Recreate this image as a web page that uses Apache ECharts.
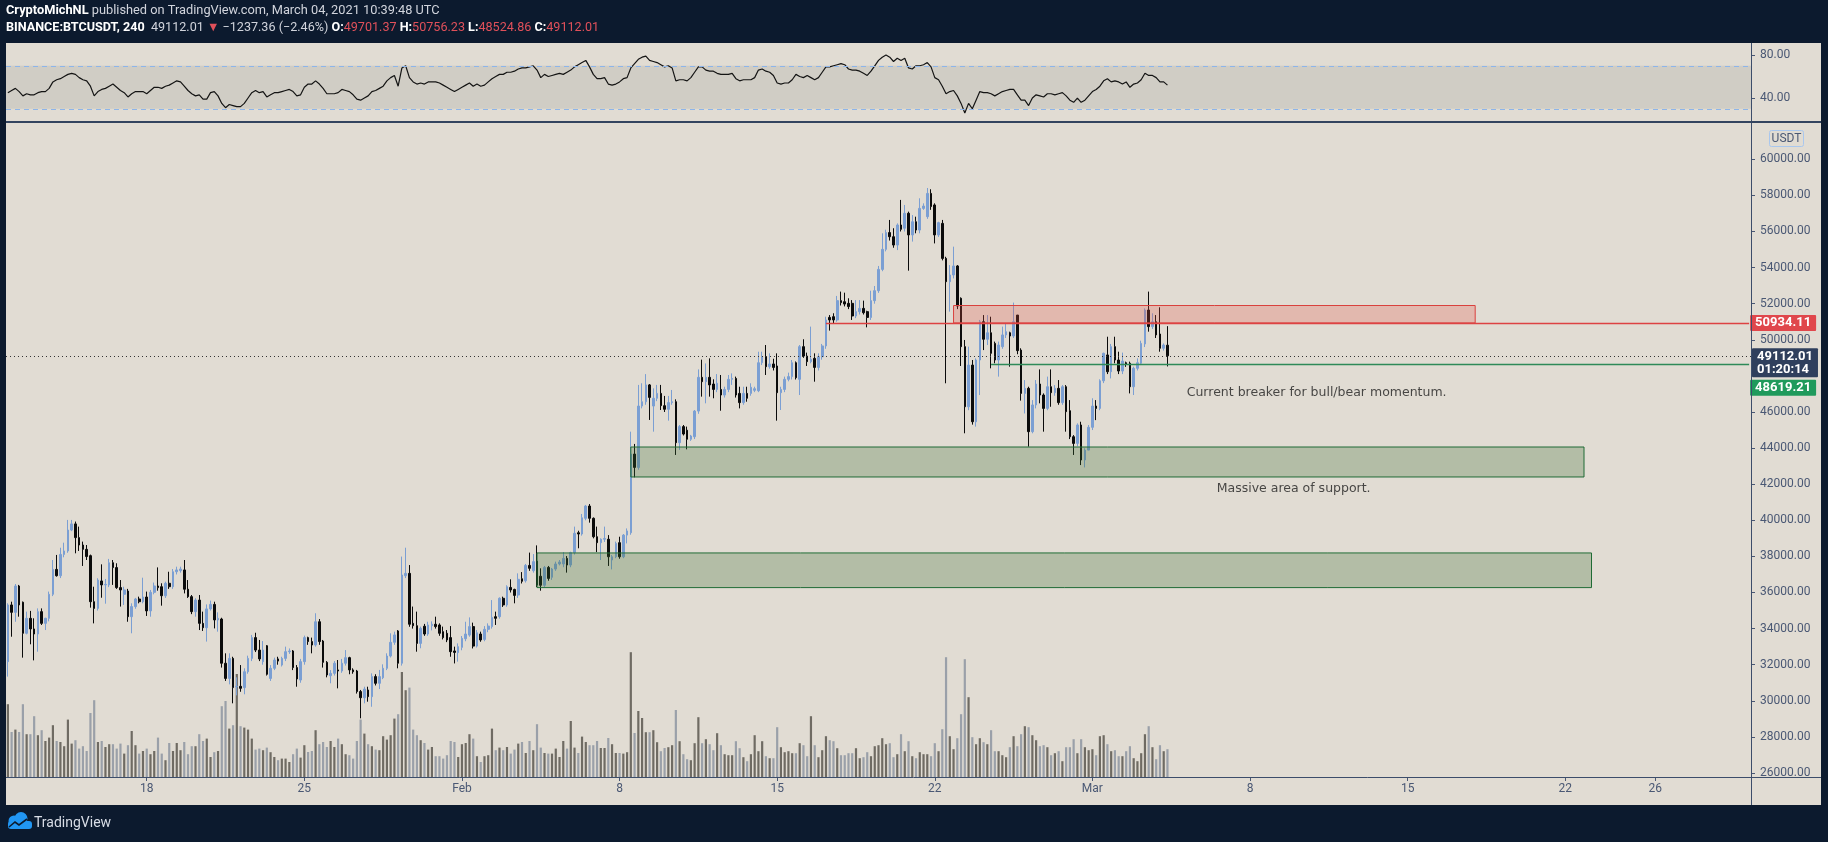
<!DOCTYPE html>
<html><head><meta charset="utf-8">
<script src="https://cdn.jsdelivr.net/npm/echarts@6/dist/echarts.min.js"></script>
<style>
html,body{margin:0;padding:0;background:#0c1a2e;width:1828px;height:842px;overflow:hidden}
#panel{position:absolute;left:6px;top:43px;width:1815px;height:762px;background:#e1dcd3}
#chart{position:absolute;left:0;top:0;width:1828px;height:842px}
</style></head><body>
<div id="panel"></div><div id="chart"></div>
<script>
const FONT = 'Roboto, "Liberation Sans", Arial, sans-serif';
const NOTE_FONT = '"DejaVu Sans", Roboto, sans-serif';
const START = Date.UTC(2021, 0, 11, 20);   // first visible 4h bar
const SLOT_COUNT = 465;                     // axis runs to end of March

// [open, close, low, high] – BINANCE:BTCUSDT 4h
const ohlc = [
[32170,35310,31340,35400],[35310,34900,33550,35490],[34900,36360,34380,36470],[36360,35310,34660,36420],[35460,33740,32390,35500],
[33740,34570,33680,34940],[34570,33980,33130,34980],[33980,33700,32240,34570],[33700,34940,32720,35120],[34940,34290,34200,35120],
[34290,34570,33920,34600],[34570,35900,34400,36050],[35900,37280,35800,37800],[37280,36930,36880,38080],[36930,38110,36800,38480],
[38110,38300,37950,38760],[38300,39460,38200,40020],[39460,39800,39400,40020],[39800,39040,38170,39930],[39040,38630,38300,39650],
[38630,38390,37470,38820],[38390,37990,37800,38630],[38040,35490,35160,38100],[35490,35120,34290,36320],[35120,36690,35000,36790],
[36640,36420,35710,37560],[36420,36450,35380,36750],[36420,37650,36300,37860],[37650,37380,36420,37800],[37380,36270,36200,37620],
[36270,36140,35220,36690],[35900,36140,35310,36320],[36080,34660,34380,36200],[34660,35220,33740,35400],[35220,35640,35100,35700],
[35640,35490,35400,35770],[35490,35750,35400,36820],[35750,34980,34700,36050],[34980,36010,34660,36140],[36010,36360,35900,36550],
[36360,36270,36100,37390],[36320,35820,35270,36510],[35820,36510,35700,36600],[36510,36320,36200,37150],[36320,37150,36200,37300],
[37150,37250,37000,37430],[37210,37300,37100,37430],[37250,36180,35950,37800],[36180,35770,35700,36690],[35770,34940,34800,35860],
[34940,35580,34660,35680],[35580,34290,33920,35860],[34290,34050,33870,34940],[34050,35090,33280,35340],[35090,35340,35000,35550],
[35340,34480,34010,35490],[34480,34570,33830,34900],[34530,32080,31840,34600],[32080,31240,31100,32630],[31240,32350,30910,32630],
[32350,30730,29860,32440],[30780,30800,30300,31300],[30800,30690,30500,31980],[30730,31610,30360,31800],[31610,32350,31500,32500],
[32350,33500,32200,33650],[33500,32810,32700,33770],[32810,32320,32200,33370],[32170,32810,32000,33310],[33050,31470,31400,33090],
[31240,31800,31100,31980],[31800,32260,31700,32390],[32320,32200,32000,32440],[31980,32350,31900,32440],[32350,32720,32200,33000],
[32720,32760,32600,32900],[32760,31840,31700,32810],[31840,31210,30780,31980],[31150,32170,31000,32320],[32170,33500,32000,33610],
[33500,33280,33100,33550],[33280,33090,32630,33500],[33090,34380,33000,34850],[34380,33280,33100,34530],[33310,32130,31840,33370],
[32130,31430,31300,32200],[31390,31520,30970,31700],[31520,32080,31400,32200],[31710,31650,30690,32260],[31650,32080,31550,32320],
[32080,32390,31950,32810],[32390,31710,31470,32440],[31710,31610,31500,31800],[31650,30510,30400,31710],[30510,30170,29030,30600],
[30170,30650,29860,30780],[30600,30230,29950,30780],[30230,31340,29670,31520],[31340,30970,30850,31470],[30970,31340,30650,31710],
[31280,31800,31200,32020],[31800,32480,31700,32630],[32480,33240,32400,33740],[33240,33650,33100,33830],[33870,32080,31800,33920],
[32080,36970,31950,37990],[36930,37060,36800,38480],[37060,34240,34100,37520],[34290,34160,34000,35220],[34160,33180,32720,34940],
[33180,34010,32910,34110],[34130,33700,33600,34260],[33700,34200,33600,34380],[34160,34240,33900,34400],[34240,34110,34000,34660],
[34200,33740,33600,34290],[33830,33500,33400,34110],[33740,33370,33250,33920],[33500,32720,32440,34140],[32760,32680,32070,33000],
[32670,33000,32170,33180],[32960,33460,32800,33590],[33440,33700,33300,34380],[33640,34110,33550,34620],[34110,33030,32900,34330],
[33030,33770,32950,33920],[33700,33370,33270,33830],[33400,33960,33300,34140],[33960,34140,33800,34290],[34110,34620,34000,35580],
[34660,34570,34200,34940],[34660,35680,34550,35730],[35680,35310,35200,35770],[35310,36320,35210,36400],[36280,36140,36000,36730],
[36170,35840,35400,36210],[35860,36730,35700,37060],[36760,36620,36500,37130],[36650,37500,36550,37580],[37500,37340,37200,38210],
[37210,37710,37100,38130],[37740,36410,36300,38610],[36900,36400,36100,37340],[36400,37390,36300,37470],[37390,36780,36650,37470],
[36840,37300,36700,37360],[37300,37580,37200,37710],[37580,37690,37500,37800],[37580,37890,37400,38240],[37890,37520,37100,38020],
[37520,38210,37400,38260],[38210,39280,38100,39650],[39310,39240,38450,39420],[39240,40140,39150,40350],[40110,40790,40000,40850],
[40790,40110,39870,40900],[40110,39090,39000,40160],[39090,38760,38240,39650],[38760,38950,37800,39000],[38950,38990,38800,39650],
[38950,37980,37470,39180],[37800,37980,37280,38080],[37980,38720,37900,38820],[38760,37980,37870,39090],[37980,39180,37900,39240],
[39180,39410,38720,39550],[39310,43670,39200,44910],[43670,42930,42380,44230],[42930,46330,42800,47500],[46330,46570,46200,47590],
[46570,47500,46400,48100],[47500,46810,45560,47550],[46330,46760,44910,47310],[46760,47030,46600,47500],[47030,46350,46110,47500],
[46350,46150,46000,46890],[46150,46520,45520,46890],[46520,46570,46400,47220],[46570,44300,43620,46700],[44300,45190,43900,45280],
[45190,44780,44700,45280],[44990,44490,43930,45190],[44490,44670,44400,44730],[44630,46050,44500,46110],[46050,47920,45900,48360],
[47920,47680,46850,48900],[47680,47920,46480,48690],[47920,47500,46850,48970],[47550,47250,46760,47810],[47250,47590,47100,48100],
[47250,46940,46070,48050],[46940,47250,46800,47400],[47250,47810,47100,48050],[47810,47860,47500,48140],[47860,46940,46800,47960],
[47030,46520,46200,47400],[46520,47030,46400,47400],[47030,46760,46570,47400],[47030,47370,46900,47590],[47200,47290,47100,47400],
[47180,48730,47100,49340],[48730,49060,48600,49340],[49060,48510,48050,49710],[48510,48660,48400,49250],[48660,48470,48300,48950],
[48550,47070,45520,49250],[47070,47250,46110,47400],[47250,47810,47100,47960],[47810,47960,47700,48180],[47960,48730,47800,48880],
[48730,47900,47800,48800],[47810,49620,46940,49710],[49620,49100,49000,50030],[49100,48790,48550,49290],[48790,48920,48700,50730],
[48970,48470,47680,49250],[48470,49060,48300,49250],[49060,49660,48900,49770],[49660,51100,49500,51280],[51240,51100,50510,51370],
[51280,51100,50900,51470],[51100,52170,51000,52430],[52170,52060,51900,52670],[52110,51980,51850,52610],[52020,51840,51700,52300],
[52020,51320,51100,52200],[51320,51560,51200,52200],[51560,51740,51400,52200],[51740,51500,51400,52170],[51560,51240,50690,51610],
[51240,52170,51100,52720],[52170,52720,52000,52980],[52720,53900,52600,54090],[53900,55010,53800,55900],[55010,55940,54900,56100],
[55940,55710,55500,56640],[55710,55250,55100,56180],[55250,56360,54970,56450],[56360,56120,56000,57750],[56180,57010,56000,57470],
[57010,55810,53830,57100],[55810,56540,55440,56910],[56540,56080,55900,56820],[56080,57280,55900,57840],[57280,57410,57200,57560],
[56820,58110,56700,58410],[58110,57380,57200,58340],[57470,55810,55340,57560],[55810,56490,55700,56540],[56450,54510,54400,56640],
[54510,53220,47590,54600],[53220,53590,51560,54140],[53590,54090,53400,55160],[54090,51870,51700,54140],[52300,49620,48550,52350],
[49620,46290,44820,49990],[46290,48600,46100,49620],[48600,45460,45300,48880],[45460,48880,45190,48970],[48880,51000,46940,51100],
[51000,50030,49430,51370],[50030,50390,49710,51370],[50390,49250,48420,51280],[49800,48880,48700,49900],[48880,49710,47960,49900],
[49620,50270,49500,50730],[50270,50450,50100,50910],[50390,50210,48510,50450],[50210,51000,50100,52060],[51370,49400,49200,51370],
[49430,47030,46630,49530],[47030,47310,45920,47770],[47310,44910,44080,47400],[44910,46390,44820,46660],[46390,47550,46200,47770],
[47550,46940,46480,48360],[46940,46200,44910,47030],[46200,47400,46100,47960],[47400,47070,46290,48360],[47070,47310,46900,47490],
[47310,46520,46400,47770],[46520,47400,46400,47490],[47400,46020,44910,47490],[46070,44630,44500,46660],[44630,44260,43620,44720],
[44260,45280,44100,45370],[45280,43340,43060,45460],[43340,43890,42930,43990],[43890,45150,44080,45280],[45150,46330,45000,46760],
[46330,46200,45550,46660],[46200,47730,46100,47810],[47730,49250,47600,49290],[49160,48230,48100,50170],[48230,49620,47860,49770],
[49620,48880,48700,50170],[48880,48270,48100,49340],[48270,48820,48100,49290],[48730,48640,48500,48790],[48700,47400,47030,48790],
[47400,48420,46940,48510],[48420,48730,48300,48970],[48700,49800,48600,49950],[49770,51650,49600,51740],[51650,50730,50450,52670],
[50730,51000,50600,51470],[51000,50270,50100,51370],[50320,49530,49340,51800],[49530,49710,49400,49800],[49701.37,49112.01,48524.86,50756.23]
];

// volume per bar, thousand BTC
const volume = [
36.4,22.5,23.7,22.5,36.4,21.4,21.4,30.4,20.9,23.4,18,19.7,25.9,18,17.5,15.4,28.7,16.7,18.4,14.2,
15.4,13,32,38.4,17.5,18,15,16.4,16.4,14.2,16.7,11.7,15.9,23,15.9,11.7,13,14.2,11.4,13,
19.7,11.7,8.4,17,13,17,13.4,17.5,11.4,15.4,15.4,21.4,18,19.2,10,12.4,13,35.4,38,24.2,
25.9,51.5,25.4,24.7,23.7,19.2,13.7,14.2,13.4,14.7,12.4,10,8.4,9.2,9.2,7.5,11.4,14.2,9.7,15.9,
12.5,13,23.4,16.4,17.5,15,18,15,19.2,16.4,11.4,10.9,9.2,18,28.7,21.7,16.4,15.4,13.7,13.4,
20.4,18.7,20.9,29.2,31.4,52.5,43.4,44.7,23.7,20.9,18.4,17,13.7,15,10.4,10.4,9.2,10.9,18,17.5,
10,16.4,17,21.4,19.2,10.4,7.5,10.4,10.9,24.2,13.4,14.7,13.4,15,11.7,13.7,16.7,17.5,12,18,
13.4,26.4,14.7,12,11.7,11.7,14.2,10,18,14.2,28,14.7,12,20.2,17.5,15.9,15.9,18,14.5,14.5,
19.5,16.4,12,12,11.7,12.4,62.4,22,33,29.5,22.4,22.4,23.4,17.4,12.9,14.5,14.9,15.9,33.5,17.9,
11.4,8.9,8.4,16.9,29.9,16.9,18.9,16.4,13.4,21.9,15.9,11.4,10.9,10.9,17.9,14.4,9.9,7.9,11.4,20.9,
12.9,17.9,10.4,9.4,9.4,24.9,14.9,12.4,12.9,11.9,11.9,16.9,15.9,10.4,30.4,15.9,9.9,13.4,20.4,18.4,
17.9,14.4,10.9,10.9,11.9,11.9,14.4,9.4,9.9,12.4,10.4,15.4,15.9,19.4,16.4,16.9,9.9,11.4,21.4,12.9,
17.9,10.4,9.4,12.4,11.4,11.4,10.4,16.9,12.9,23.9,59.9,20.4,13.9,19.4,31.4,58.9,39.9,19.9,16.4,19.4,
17.4,16.4,23.4,12.9,12.9,10.9,9.9,14.9,20.4,15.4,21.4,25.4,24.9,20.9,18.4,15.4,15.9,14.9,10.9,11.9,
12.9,7.9,14.9,14.9,18.9,11.9,18.9,14.9,13.4,13.9,10.9,20.4,20.9,16.4,12.9,13.4,10.4,10.4,12.9,15.4,
9.4,7.9,11.9,21.4,25.4,14.9,8.9,15.9,12.9,13.9
];

// RSI(14)
const rsi = [
45,47,49,46,42,44,43,43,45,46, 46,49,55,57,58,60,62,63,62,59, 57,56,51,42,46,48,49,51,53,50,
47,45,41,44,46,46,46,44,47,50, 50,49,51,52,54,56,55,51,47,44, 42,43,39,39,45,46,42,35,31,34,
33,32,32,35,40,45,47,45,46,41, 43,45,45,46,47,48,46,42,43,50, 53,53,56,53,49,44,44,44,45,48,
47,46,43,39,38,40,42,46,47,49, 51,56,59,61,51,68,70,59,55,53, 54,53,55,55,55,54,52,50,48,46,
48,50,52,54,51,53,51,52,55,58, 60,62,62,64,64,65,67,68,68,69, 70,66,59,62,60,61,62,63,62,64,
66,69,71,73,75,69,62,58,58,59, 53,52,53,55,58,59,68,72,76,78, 79,75,74,73,71,69,70,68,56,57,
57,56,59,64,69,69,66,65,65,63, 62,62,62,63,58,56,57,57,57,59, 66,67,65,64,61,54,53,54,54,57,
62,60,59,61,59,57,59,64,69,69, 70,71,72,71,67,66,66,65,63,61, 65,70,75,78,80,78,74,77,75,77,
68,67,70,70,71,73,69,59,57,51, 44,46,47,42,35,26,35,30,38,46, 45,45,44,42,44,46,47,48,48,43,
38,38,33,40,43,42,41,44,44,43, 44,45,42,38,36,40,36,38,42,46, 48,51,56,58,55,56,55,53,55,50,
53,54,57,63,61,61,59,55,55,52
];

const xTickDates  = ['2021-01-18','2021-01-25','2021-02-01','2021-02-08','2021-02-15','2021-02-22','2021-03-01','2021-03-08','2021-03-15','2021-03-22','2021-03-26'];
const xTickLabels = ['18','25','Feb','8','15','22','Mar','8','15','22','26'];
const priceTicks  = [26000,28000,30000,32000,34000,36000,38000,40000,42000,44000,46000,50000,52000,54000,56000,58000,60000];
const rsiTicks    = [40, 80];

const resistanceLevel = 50934.11, lastPrice = 49112.01, supportLevel = 48619.21;
const countdown = '01:20:14';
const redZone    = {from:'2021-02-22 20:00', to:'2021-03-18 00:00', top:51900, bottom:50934.11};
const greenZones = [
  {from:'2021-02-08 12:00', to:'2021-03-22 20:00', top:44060, bottom:42400},
  {from:'2021-02-04 08:00', to:'2021-03-23 04:00', top:38190, bottom:36270}
];
const resistanceFrom = '2021-02-17 04:00', supportFrom = '2021-02-24 12:00';
const notes = [
  {name:'Current breaker for bull/bear momentum.', at:'2021-03-05 04:00', price:47060},
  {name:'Massive area of support.', at:'2021-03-06 12:00', price:41720}
];

// time slots for the category axis
const cats = [];
for (let i = 0; i < SLOT_COUNT; i++) {
  cats.push(new Date(START + i * 4 * 3600e3).toISOString().slice(0, 16).replace('T', ' '));
}
const tickMap = {};
xTickDates.forEach((d, k) => { tickMap[d + ' 00:00'] = xTickLabels[k]; });
const lastCat = cats[SLOT_COUNT - 1];

const BULL = '#7b9fd3', BEAR = '#0b0b0b', VBULL = '#6f6b63', VBEAR = '#9aa0a9';
const AXIS_TXT = '#4a5874';

const chart = echarts.init(document.getElementById('chart'), null, {renderer: 'canvas'});
const volData = volume.map((v, i) => ({value: v, itemStyle: {color: ohlc[i][1] >= ohlc[i][0] ? VBULL : VBEAR}}));

const tagLabel = (txt, bg, off) => ({
  show: true, position: 'end', formatter: txt, distance: 1, offset: [0, off],
  color: '#ffffff', backgroundColor: bg, padding: [2, 5, 1, 5], fontSize: 13, fontWeight: 'bold',
  fontFamily: FONT, lineHeight: 13, borderRadius: 1
});

const option = {
  animation: false,
  backgroundColor: 'transparent',
  title: [
    {left: 6, top: 4, padding: 0,
     text: '{b|CryptoMichNL} published on TradingView.com, March 04, 2021 10:39:48 UTC',
     textStyle: {fontFamily: FONT, fontSize: 12.8, fontWeight: 'normal', color: '#d1d4dc',
       rich: {b: {fontFamily: FONT, fontSize: 12.8, fontWeight: 'bold', color: '#ffffff'}}}},
    {left: 6, top: 21, padding: 0,
     text: '{b|BINANCE:BTCUSDT, 240}  49112.01 {r|▼} −1237.36 (−2.46%) {b|O:}{r|49701.37} {b|H:}{r|50756.23} {b|L:}{r|48524.86} {b|C:}{r|49112.01}',
     textStyle: {fontFamily: FONT, fontSize: 12.6, fontWeight: 'normal', color: '#d1d4dc',
       rich: {b: {fontFamily: FONT, fontSize: 12.6, fontWeight: 'bold', color: '#ffffff'},
              r: {fontFamily: FONT, fontSize: 12.6, color: '#e0505a'}}}}
  ],
  grid: [
    {left: 6, width: 1745, top: 43, height: 79, outerBoundsMode: 'none'},
    {left: 6, width: 1745, top: 123, height: 654, outerBoundsMode: 'none'},
    {left: 6, width: 1745, top: 123, height: 654, outerBoundsMode: 'none'}
  ],
  xAxis: [
    {gridIndex: 0, type: 'category', data: cats, show: false, boundaryGap: true},
    {gridIndex: 1, type: 'category', data: cats, boundaryGap: true,
     axisLine: {show: false},
     axisTick: {show: true, alignWithLabel: true, length: 4, interval: (i, v) => v in tickMap,
                lineStyle: {color: AXIS_TXT}},
     axisLabel: {show: true, interval: (i, v) => v in tickMap, formatter: v => tickMap[v] || '',
                 color: AXIS_TXT, fontSize: 12, fontFamily: FONT, margin: 6},
     splitLine: {show: false}},
    {gridIndex: 2, type: 'category', data: cats, show: false, boundaryGap: true}
  ],
  yAxis: [
    {gridIndex: 0, type: 'value', position: 'right', min: 17.7, max: 91.2, scale: true,
     axisLine: {show: false}, splitLine: {show: false},
     axisTick: {show: true, length: 4, customValues: rsiTicks, lineStyle: {color: AXIS_TXT}},
     axisLabel: {customValues: rsiTicks, formatter: v => v.toFixed(2), color: AXIS_TXT, fontSize: 12, fontFamily: FONT, margin: 9}},
    {gridIndex: 1, type: 'value', position: 'right', min: 25778, max: 62011, scale: true,
     axisLine: {show: false}, splitLine: {show: false},
     axisTick: {show: true, length: 4, customValues: priceTicks, lineStyle: {color: AXIS_TXT}},
     axisLabel: {customValues: priceTicks, formatter: v => v.toFixed(2), color: AXIS_TXT, fontSize: 12, fontFamily: FONT, margin: 9}},
    {gridIndex: 2, type: 'value', min: 0, max: 327, show: false}
  ],
  series: [
    {type: 'line', name: 'RSI', xAxisIndex: 0, yAxisIndex: 0, data: rsi, showSymbol: false, symbol: 'none',
     lineStyle: {color: '#141414', width: 1.2}, z: 3,
     markArea: {silent: true, z: 1, itemStyle: {color: 'rgba(165,168,160,0.28)'}, data: [[{yAxis: 30}, {yAxis: 70}]]},
     markLine: {silent: true, symbol: ['none', 'none'], label: {show: false},
       lineStyle: {color: '#8db5ea', type: [5, 4], width: 1}, data: [{yAxis: 70}, {yAxis: 30}]}},
    {type: 'bar', name: 'Volume', xAxisIndex: 2, yAxisIndex: 2, data: volData, barWidth: 2.2, z: 1, silent: true},
    {type: 'candlestick', name: 'BTCUSDT', xAxisIndex: 1, yAxisIndex: 1, data: ohlc, barWidth: 2.1, z: 2,
     itemStyle: {color: BULL, borderColor: BULL, color0: BEAR, borderColor0: BEAR, borderWidth: 1},
     markArea: {silent: true, z: 4,
       data: [
         [{coord: [redZone.from, redZone.top], itemStyle: {color: 'rgba(230,80,70,0.26)', borderColor: '#d9413d', borderWidth: 1}},
          {coord: [redZone.to, redZone.bottom]}],
         ...greenZones.map(g => [
           {coord: [g.from, g.top], itemStyle: {color: 'rgba(60,110,50,0.28)', borderColor: '#1f6b35', borderWidth: 1}},
           {coord: [g.to, g.bottom]}])
       ]},
     markLine: {silent: true, symbol: ['none', 'none'], z: 5,
       data: [
         [{coord: [resistanceFrom, resistanceLevel], lineStyle: {color: '#dd4242', width: 1.4, type: 'solid'},
           label: tagLabel(resistanceLevel.toFixed(2), '#e0474c', 0)},
          {coord: [lastCat, resistanceLevel]}],
         [{coord: [supportFrom, supportLevel], lineStyle: {color: '#2e8a58', width: 1.4, type: 'solid'},
           label: tagLabel(supportLevel.toFixed(2), '#1f9a5c', 23)},
          {coord: [lastCat, supportLevel]}],
         {yAxis: lastPrice, lineStyle: {color: '#333333', width: 1, type: [1, 3]},
          label: tagLabel(lastPrice.toFixed(2) + '\n' + countdown, '#2f3f5d', 7)}
       ]}},
    {type: 'scatter', name: 'notes', xAxisIndex: 1, yAxisIndex: 1, symbolSize: 1, z: 6, silent: true,
     itemStyle: {color: 'rgba(0,0,0,0)'},
     data: notes.map(n => ({name: n.name, value: [n.at, n.price]})),
     label: {show: true, position: 'right', distance: 0, formatter: '{b}', color: '#202020', fontSize: 12.5, fontFamily: NOTE_FONT}}
  ],
  graphic: [
    {type: 'line', silent: true, z: 50, shape: {x1: 1751.5, y1: 43, x2: 1751.5, y2: 805}, style: {stroke: '#3c4d6a', lineWidth: 1}},
    {type: 'line', silent: true, z: 50, shape: {x1: 6, y1: 122, x2: 1821, y2: 122}, style: {stroke: '#33445f', lineWidth: 2}},
    {type: 'line', silent: true, z: 50, shape: {x1: 6, y1: 777.5, x2: 1821, y2: 777.5}, style: {stroke: '#3c4d6a', lineWidth: 1}},
    {type: 'rect', silent: true, z: 50, shape: {x: 1769.5, y: 130.5, width: 34, height: 16, r: 2}, style: {fill: 'none', stroke: '#a9c7ee', lineWidth: 1}},
    {type: 'text', silent: true, z: 51, x: 1786.5, y: 139, style: {text: 'USDT', fill: AXIS_TXT, font: '12px ' + FONT, textAlign: 'center', textVerticalAlign: 'middle'}},
    {type: 'group', silent: true, z: 50, children: [
      {type: 'circle', shape: {cx: 14, cy: 821, r: 5.5}, style: {fill: '#2196f3'}},
      {type: 'circle', shape: {cx: 21, cy: 818.5, r: 6.5}, style: {fill: '#2196f3'}},
      {type: 'rect', shape: {x: 8, y: 821, width: 24, height: 8, r: 3}, style: {fill: '#2196f3'}},
      {type: 'polyline', shape: {points: [[9, 827], [15, 822], [19, 825], [27, 819]]}, style: {stroke: '#0c1a2e', lineWidth: 1.6, fill: 'none'}}
    ]},
    {type: 'text', silent: true, z: 50, x: 34, y: 823, style: {text: 'TradingView', fill: '#d8dde6', font: '14px ' + FONT, textVerticalAlign: 'middle'}}
  ]
};
chart.setOption(option);
</script>
</body></html>
